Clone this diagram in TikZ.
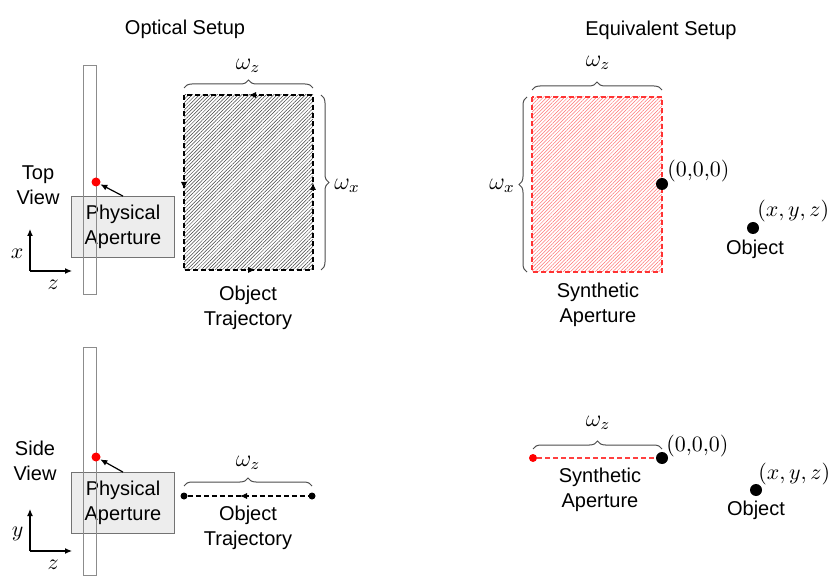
\documentclass[tikz,border=0pt]{standalone}
\usepackage[no-math]{fontspec}
\setmainfont{Liberation Sans}
\usetikzlibrary{arrows.meta,patterns.meta,decorations.pathreplacing}
\tikzset{
  lbl/.style={align=center,font=\fontsize{10}{12.5}\selectfont,inner sep=0pt},
  mlbl/.style={font=\fontsize{10.5}{12}\selectfont,inner sep=0pt},
  wlbl/.style={font=\fontsize{12}{12}\selectfont,inner sep=0pt},
  apbox/.style={draw=black!55,fill=black!7,minimum width=51.5pt,minimum height=30.5pt,inner sep=0pt,align=center,font=\fontsize{10}{12.5}\selectfont},
  bar/.style={draw=black!45,line width=0.5pt},
  reddot/.style={circle,fill=red,inner sep=0pt,minimum size=4.5pt},
  bigdot/.style={circle,fill=black,inner sep=0pt,minimum size=6pt},
  smalldot/.style={circle,fill=black,inner sep=0pt,minimum size=3.5pt},
  brace/.style={decorate,decoration={brace,amplitude=4pt},draw=black!70,line width=0.5pt},
  traj/.style={dashed,dash pattern=on 2.5pt off 1.5pt,line width=0.7pt},
  hatchblack/.style={pattern={Lines[angle=45,distance=1.25pt,line width=0.25pt]},pattern color=black!75},
  hatchred/.style={pattern={Lines[angle=45,distance=1.25pt,line width=0.25pt]},pattern color=red!55},
}
\begin{document}
\begin{tikzpicture}[x=0.5pt,y=-0.5pt,>={Latex[length=3.5pt,width=3pt]}]
\useasboundingbox (0,0) rectangle (830,577);
% titles
\node[lbl] (t1) at (185,29) {Optical Setup};
\node[lbl] (t2) at (661,30) {Equivalent Setup};

% ---- optical setup, top view
\node[lbl] (topview) at (38,185) {Top\\View};
\coordinate (o1) at (30,271);
\draw[->,line width=0.6pt] (o1) -- ++(0,-42) node[mlbl,pos=0.4,left=3pt] (ax1) {$x$};
\draw[->,line width=0.6pt] (o1) -- ++(42,0) node[mlbl,pos=0.55,below=4pt] (az1) {$z$};
\node[apbox] (pa1) at (123,227) {Physical\\Aperture};
\draw[bar] (83,66) rectangle (96,295);
\node[reddot] (ap1) at (96,182) {};
\draw[->,line width=0.6pt] (pa1.north) -- (ap1);
\draw[traj,hatchblack] (184,95) rectangle (313,270);
\draw[->] (256,95) -- (249,95);
\draw[->] (248,270) -- (255,270);
\draw[->] (184,182) -- (184,189);
\draw[->] (313,190) -- (313,183);
\draw[brace] (184,88) -- (313,88);
\node[wlbl] (wz1) at (248,66) {$\omega_z$};
\draw[brace] (321,95) -- (321,270);
\node[wlbl] (wx1) at (347,186) {$\omega_x$};
\node[lbl] (ot1) at (248,308) {Object\\Trajectory};

% ---- optical setup, side view
\node[lbl] (sideview) at (35,461) {Side\\View};
\coordinate (o2) at (30,551);
\draw[->,line width=0.6pt] (o2) -- ++(0,-42) node[mlbl,pos=0.4,left=3pt] (ay2) {$y$};
\draw[->,line width=0.6pt] (o2) -- ++(42,0) node[mlbl,pos=0.55,below=4pt] (az2) {$z$};
\node[apbox] (pa2) at (123,503) {Physical\\Aperture};
\draw[bar] (83,347) rectangle (96,575);
\node[reddot] (ap2) at (96,457) {};
\draw[->,line width=0.6pt] (pa2.north) -- (ap2);
\node[smalldot] (s1) at (184,496) {};
\node[smalldot] (s2) at (312,496) {};
\draw[traj] (s1) -- (s2);
\draw[->] (246,496) -- (240,496);
\draw[brace] (184,486) -- (312,486);
\node[wlbl] (wz2) at (248,463) {$\omega_z$};
\node[lbl] (ot2) at (248,528) {Object\\Trajectory};

% ---- equivalent setup, top view
\draw[traj,draw=red!80,hatchred] (532,97) rectangle (662,272);
\draw[brace] (532,90) -- (662,90);
\node[wlbl] (wz3) at (598,63) {$\omega_z$};
\draw[brace] (527,272) -- (527,97);
\node[wlbl] (wx3) at (502,186) {$\omega_x$};
\node[bigdot] (c1) at (662,184) {};
\node[mlbl,anchor=west] (c1l) at (667,171) {$(0{,}0{,}0)$};
\node[bigdot] (b1) at (753,228) {};
\node[mlbl,anchor=west] (b1l) at (757,211) {$(x,y,z)$};
\node[lbl] (obj1) at (755,249) {Object};
\node[lbl] (sa1) at (598,305) {Synthetic\\Aperture};

% ---- equivalent setup, side view
\node[reddot,minimum size=4pt] (r2) at (533,458) {};
\node[bigdot] (c2) at (662,458) {};
\draw[traj,draw=red!75] (r2) -- (c2);
\draw[brace] (533,449) -- (662,449);
\node[wlbl] (wz4) at (598,423) {$\omega_z$};
\node[mlbl,anchor=west] (c2l) at (666,446) {$(0{,}0{,}0)$};
\node[bigdot] (b2) at (756,490) {};
\node[mlbl,anchor=west] (b2l) at (758,474) {$(x,y,z)$};
\node[lbl] (obj2) at (756,510) {Object};
\node[lbl] (sa2) at (600,490) {Synthetic\\Aperture};
\end{tikzpicture}
\end{document}
